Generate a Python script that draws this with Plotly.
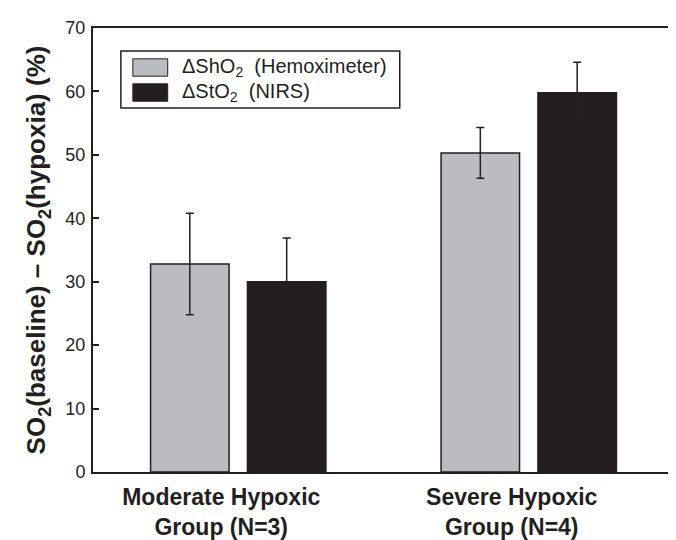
import plotly.graph_objects as go

categories = ["<b>Moderate Hypoxic</b><br><b>Group (N=3)</b>", "<b>Severe Hypoxic</b><br><b>Group (N=4)</b>"]
series_names = ["ΔShO<sub>2</sub>  (Hemoximeter)", "ΔStO<sub>2</sub>  (NIRS)"]
sho2_mean = [32.8, 50.3]
sho2_err = [8.0, 4.0]
sto2_mean = [30.0, 59.8]
sto2_err = [6.9, 4.8]
y_ticks = [0, 10, 20, 30, 40, 50, 60, 70]

GRAY = "#BBBCC0"
BLACK = "#231F20"
INK = "#231F20"
FONT = "Liberation Sans"

fig = go.Figure()
fig.add_trace(go.Bar(
    x=categories, y=sho2_mean, name=series_names[0],
    marker=dict(color=GRAY, line=dict(color=INK, width=1.5)),
    error_y=dict(type="data", array=sho2_err, visible=True, color=INK, thickness=1.5, width=4),
))
fig.add_trace(go.Bar(
    x=categories, y=sto2_mean, name=series_names[1],
    marker=dict(color=BLACK, line=dict(color=INK, width=1.5)),
    error_y=dict(type="data", array=sto2_err, visible=True, color=INK, thickness=1.5, width=4),
))

fig.update_layout(
    width=676, height=540,
    margin=dict(l=85, r=8, t=20, b=59),
    paper_bgcolor="white", plot_bgcolor="white",
    barmode="group", bargap=0.333, bargroupgap=0.19,
    showlegend=False,
    font=dict(family=FONT, color=INK),
)
fig.update_xaxes(
    range=[-0.5, 1.5], showline=True, linecolor=INK, linewidth=2, mirror=True,
    ticks="", tickfont=dict(size=23, family=FONT, color=INK),
    showgrid=False, zeroline=False, ticklabelstandoff=3, ticklabelshift=-17,
)
fig.update_yaxes(
    range=[0, 70], tickvals=y_ticks, showline=True, linecolor=INK, linewidth=2, mirror="ticks",
    ticks="inside", ticklen=6, tickwidth=1.5, tickcolor=INK,
    tickfont=dict(size=18, family=FONT, color=INK),
    showgrid=False, zeroline=False, ticklabelstandoff=2,
    title=dict(text="<b>SO<sub>2</sub>(baseline) – SO<sub>2</sub>(hypoxia) (%)</b>",
               font=dict(size=26, family=FONT, color=INK), standoff=12),
)

# Custom legend (box, swatches, labels) in paper coordinates
fig.add_shape(type="rect", xref="paper", yref="paper", x0=0.048, x1=0.528, y0=0.820, y1=0.948,
              line=dict(color=INK, width=1.5), fillcolor="white", layer="above")
swatches = [(GRAY, 0.8915, 0.9306, 0.911), (BLACK, 0.8351, 0.8742, 0.855)]
for (col, y0, y1, yc), name in zip(swatches, series_names):
    fig.add_shape(type="rect", xref="paper", yref="paper", x0=0.0686, x1=0.1286, y0=y0, y1=y1,
                  line=dict(color=INK, width=1), fillcolor=col, layer="above")
    fig.add_annotation(xref="paper", yref="paper", x=0.149, y=yc, text=name, showarrow=False,
                       xanchor="left", yanchor="middle", font=dict(size=20, family=FONT, color=INK))

fig.write_html("out.html")
